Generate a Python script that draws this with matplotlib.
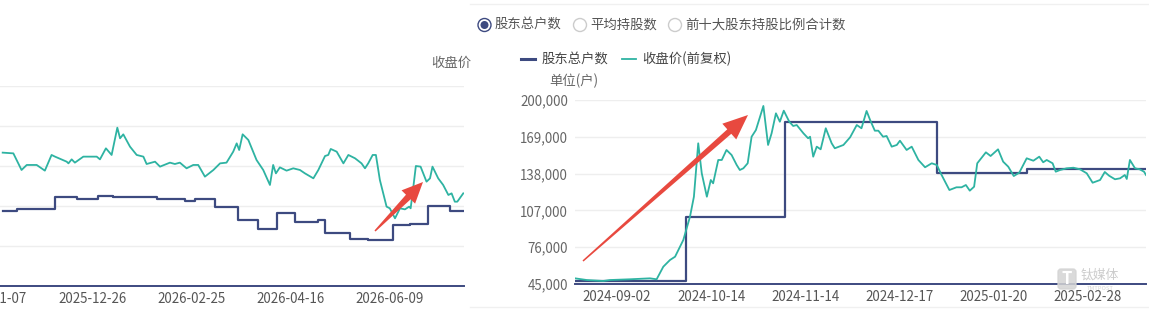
import matplotlib
matplotlib.use("Agg")
import matplotlib.pyplot as plt
from matplotlib.patches import Circle, FancyBboxPatch, Polygon
import numpy as np

plt.rcParams['font.family'] = ['Noto Sans CJK SC', 'DejaVu Sans']

W, H = 1149, 312
NAVY = '#3d4a80'
TEAL = '#2eb3a2'
RED = '#e8493f'
GRID = '#eeeeee'

# ---- left panel (cut off in the screenshot), x = trading day index ----
left_ticks = [0, 40, 80, 120, 160]
left_tick_labels = ['2025-11-07', '2025-12-26', '2026-02-25', '2026-04-16', '2026-06-09']

left_holder_days = [3.9, 9.5, 25, 33.7, 42.4, 48.5, 65.9, 77.4, 81.4, 89.4, 98.8, 106.9,
                    114.3, 121.7, 131.1, 133.8, 143.8, 151.2, 161, 168, 175.1, 184.1, 189.8]
left_holder_vals = [18830, 19170, 22330, 21830, 22500, 22170, 21670, 21330, 21670, 19830, 16500, 14330,
                    18170, 16080, 16500, 13330, 11750, 11500, 15170, 15500, 20000, 18670, 18670]

left_price_days = [3.9, 8.2, 11.5, 13.6, 17.6, 20.9, 23.6, 25.0, 29.7, 30.4, 31.7, 33.0, 36.4, 41.8,
                   43.1, 45.5, 47.8, 50.1, 51.2, 52.5, 55.2, 57.9, 60.6, 61.9, 65.3, 67.3, 71.3, 73.3,
                   75.3, 78.0, 80.7, 82.7, 85.4, 88.8, 91.5, 94.1, 96.8, 98.2, 99.2, 100.6, 102.9,
                   106.2, 108.9, 111.6, 112.9, 114.0, 115.6, 118.3, 121.0, 123.7, 125.7, 129.1, 131.1,
                   133.8, 135.1, 136.1, 138.5, 141.2, 143.2, 145.9, 148.5, 149.9, 151.2, 153.0, 154.3,
                   155.9, 158.6, 159.9, 162.0, 164.0, 166.0, 167.7, 168.3, 169.4, 170.4, 172.3, 174.7,
                   176.1, 177.1, 179.4, 181.4, 183.5, 184.8, 186.1, 187.1, 189.5]
left_price_vals = [16.67, 16.58, 14.50, 15.13, 15.13, 14.42, 16.38, 16.17, 15.54, 15.33, 15.83, 15.42,
                   16.17, 16.17, 15.83, 17.21, 16.38, 19.79, 18.46, 18.96, 17.42, 16.38, 16.17, 15.25,
                   15.54, 14.92, 15.42, 15.25, 15.42, 14.71, 15.13, 15.13, 13.67, 14.50, 15.33, 15.42,
                   16.79, 17.83, 17.00, 18.96, 18.25, 15.75, 14.50, 12.63, 15.13, 14.08, 14.83, 14.42,
                   14.71, 14.50, 14.08, 13.46, 14.50, 16.25, 16.38, 17.13, 16.79, 15.33, 16.38, 15.96,
                   15.33, 14.71, 15.33, 16.38, 16.38, 13.25, 9.92, 9.71, 8.46, 9.71, 9.58, 9.92, 9.71,
                   12.42, 15.00, 14.92, 13.04, 13.46, 14.92, 13.46, 12.63, 11.38, 11.58, 10.54, 10.54,
                   11.58]

# ---- right panel ----
right_ticks = [0, 24, 48, 72, 96, 120]
right_tick_labels = ['2024-09-02', '2024-10-14', '2024-11-14', '2024-12-17', '2025-01-20', '2025-02-28']
holder_yticks = [45000, 76000, 107000, 138000, 169000, 200000]

right_holder_days = [-10.7, 17.6, 42.8, 81.5, 104.5, 134.8]
right_holder_vals = [47500, 101700, 181700, 138250, 141900, 141900]

right_price_days = [-10.7, -7.7, -3.5, -1.8, 3.3, 8.4, 10.1, 11.8, 13.5, 14.8, 16.9, 18.6, 19.6, 20.7,
                    21.6, 22.9, 23.9, 24.5, 25.8, 26.7, 27.9, 29.2, 30.5, 31.3, 32.2, 33.3, 34.3, 35.4,
                    37.3, 38.5, 39.4, 40.5, 41.5, 42.5, 43.9, 44.9, 45.8, 47.5, 48.7, 49.2, 50.0, 50.9,
                    51.9, 53.2, 54.7, 55.5, 57.7, 59.4, 61.1, 62.3, 63.6, 64.5, 65.7, 66.6, 67.8, 68.7,
                    70.0, 71.3, 72.1, 73.8, 75.1, 76.8, 78.5, 80.2, 81.5, 82.5, 83.6, 84.7, 86.5, 87.8,
                    88.9, 89.9, 91.0, 91.8, 94.0, 95.2, 97.1, 98.4, 99.7, 101.1, 102.5, 104.4, 106.1,
                    107.6, 108.6, 109.5, 111.0, 111.8, 112.9, 114.6, 116.3, 118.0, 119.7, 121.2, 123.1,
                    124.3, 125.4, 126.9, 128.2, 129.4, 129.9, 130.7, 132.0, 133.2, 134.3, 134.8]
right_price_vals = [5.77, 5.54, 5.41, 5.54, 5.64, 5.77, 5.64, 7.35, 8.26, 8.71, 10.98, 14.14, 16.86,
                    24.12, 20.04, 16.86, 19.13, 18.68, 21.85, 21.85, 23.21, 22.53, 21.17, 20.49, 20.72,
                    21.40, 25.01, 25.92, 29.19, 23.89, 25.48, 28.19, 27.05, 28.55, 27.05, 26.47, 26.60,
                    25.48, 24.80, 25.01, 22.30, 23.66, 23.30, 26.16, 24.12, 23.44, 23.89, 24.93, 26.60,
                    26.16, 28.51, 27.28, 25.83, 25.83, 25.01, 25.11, 23.66, 23.89, 24.47, 23.21, 23.66,
                    21.85, 20.86, 21.40, 21.17, 20.04, 18.90, 17.77, 18.14, 18.14, 18.45, 17.68, 18.22,
                    21.40, 22.89, 22.39, 23.30, 21.62, 20.94, 19.67, 20.12, 22.08, 21.75, 22.30, 21.54,
                    21.85, 21.40, 20.26, 20.49, 20.72, 20.80, 20.58, 20.04, 18.76, 19.13, 20.22, 19.71,
                    19.23, 19.36, 19.81, 19.27, 21.85, 20.72, 20.58, 20.26, 19.81]

radio_labels = ['股东总户数', '平均持股数', '前十大股东持股比例合计数']
legend_labels = ['股东总户数', '收盘价(前复权)']


def box(x0, y0, x1, y1):
    # pixel box (top-left origin) -> figure fraction rect
    return [x0 / W, 1 - y1 / H, (x1 - x0) / W, (y1 - y0) / H]


def style_axis(ax):
    for s in ['top', 'right', 'left']:
        ax.spines[s].set_visible(False)
    ax.spines['bottom'].set_color(NAVY)
    ax.spines['bottom'].set_linewidth(1.4)
    ax.yaxis.grid(True, color=GRID, linewidth=1)
    ax.set_axisbelow(True)
    ax.tick_params(axis='x', length=0, pad=4, labelsize=9.6, labelcolor='#555555')
    ax.tick_params(axis='y', length=0, pad=5, labelsize=9.6, labelcolor='#666666')


def tapered_arrow(ax, tail, tip, head_len, head_w, w0, w1):
    tail = np.array(tail, float)
    tip = np.array(tip, float)
    d = (tip - tail) / np.hypot(*(tip - tail))
    n = np.array([-d[1], d[0]])
    neck = tip - d * head_len
    pts = [tail + n * w0 / 2, neck + n * w1 / 2, neck + n * head_w / 2, tip,
           neck - n * head_w / 2, neck - n * w1 / 2, tail - n * w0 / 2]
    ax.add_patch(Polygon(pts, closed=True, color=RED, lw=0, zorder=8))


fig = plt.figure(figsize=(W / 100, H / 100), dpi=100)

# left panel
axl = fig.add_axes(box(-7, 86, 464, 286))
style_axis(axl)
axl.set_xlim(0, 189.8)
axl.set_ylim(0, 50000)
axl.set_yticks(range(0, 50001, 10000))
axl.set_yticklabels([])
axl.set_xticks(left_ticks)
axl.set_xticklabels(left_tick_labels)
axl.step(left_holder_days, left_holder_vals, where='post', color=NAVY, lw=1.6)
axl2 = axl.twinx()
axl2.axis('off')
axl2.set_ylim(0, 25)
axl2.plot(left_price_days, left_price_vals, color=TEAL, lw=1.3)

# right panel
axr = fig.add_axes(box(575, 100, 1146, 284))
style_axis(axr)
axr.set_xlim(-10.7, 134.8)
axr.set_ylim(45000, 200000)
axr.set_yticks(holder_yticks)
axr.set_yticklabels([f'{v:,}' for v in holder_yticks])
axr.set_xticks(right_ticks)
axr.set_xticklabels(right_tick_labels)
axr2 = axr.twinx()
axr2.axis('off')
axr2.set_ylim(5, 30)
pl, = axr2.plot(right_price_days, right_price_vals, color=TEAL, lw=1.3)
hl, = axr2.plot([], [], color=NAVY, lw=2.2)
axr.step(right_holder_days, right_holder_vals, where='post', color=NAVY, lw=1.6, zorder=3)

fig.legend([hl, pl], legend_labels, loc='center left', bbox_to_anchor=(514 / W, 1 - 59 / H),
           ncol=2, frameon=False, fontsize=9.6, handlelength=1.1, handletextpad=0.45,
           columnspacing=1.0, borderpad=0, labelcolor='#444444')

# overlay for screenshot decorations
ov = fig.add_axes([0, 0, 1, 1])
ov.set_xlim(0, W)
ov.set_ylim(H, 0)
ov.axis('off')

ov.plot([470, W], [4, 4], color='#f0f0f0', lw=1)
ov.plot([470, W], [307, 307], color='#f0f0f0', lw=1)

radio_x = [484.5, 580, 675]
for i, (cx, lab) in enumerate(zip(radio_x, radio_labels)):
    ov.add_patch(Circle((cx, 25), 6.5, fill=False, ec=NAVY if i == 0 else '#cccccc', lw=1))
    if i == 0:
        ov.add_patch(Circle((cx, 25), 3.3, color=NAVY))
    ov.text(cx + 10, 25, lab, fontsize=9.6, color='#555555', va='center', ha='left')

ov.text(574, 81, '单位(户)', fontsize=9.6, color='#666666', va='center', ha='center')
ov.text(451, 63, '收盘价', fontsize=9.6, color='#666666', va='center', ha='center')

tapered_arrow(ov, (375, 231), (423, 182), head_len=21, head_w=19, w0=1.5, w1=6.5)
tapered_arrow(ov, (583, 261), (748, 115), head_len=25, head_w=21, w0=1.5, w1=6)

# watermark
ov.add_patch(FancyBboxPatch((1058, 269), 18, 20, boxstyle='round,pad=0,rounding_size=3',
                            color='#d4d4d4', alpha=0.85, zorder=5))
ov.text(1067, 279, 'T', fontsize=12, fontweight='bold', color='white', ha='center', va='center', zorder=6)
ov.text(1100, 275, '钛媒体', fontsize=9.2, color='#cccccc', ha='center', va='center', zorder=6)
ov.text(1100, 289, 'TMTPOST', fontsize=4.2, color='#d6d6d6', ha='center', va='center', zorder=6)

fig.savefig('out.png', dpi=100)
